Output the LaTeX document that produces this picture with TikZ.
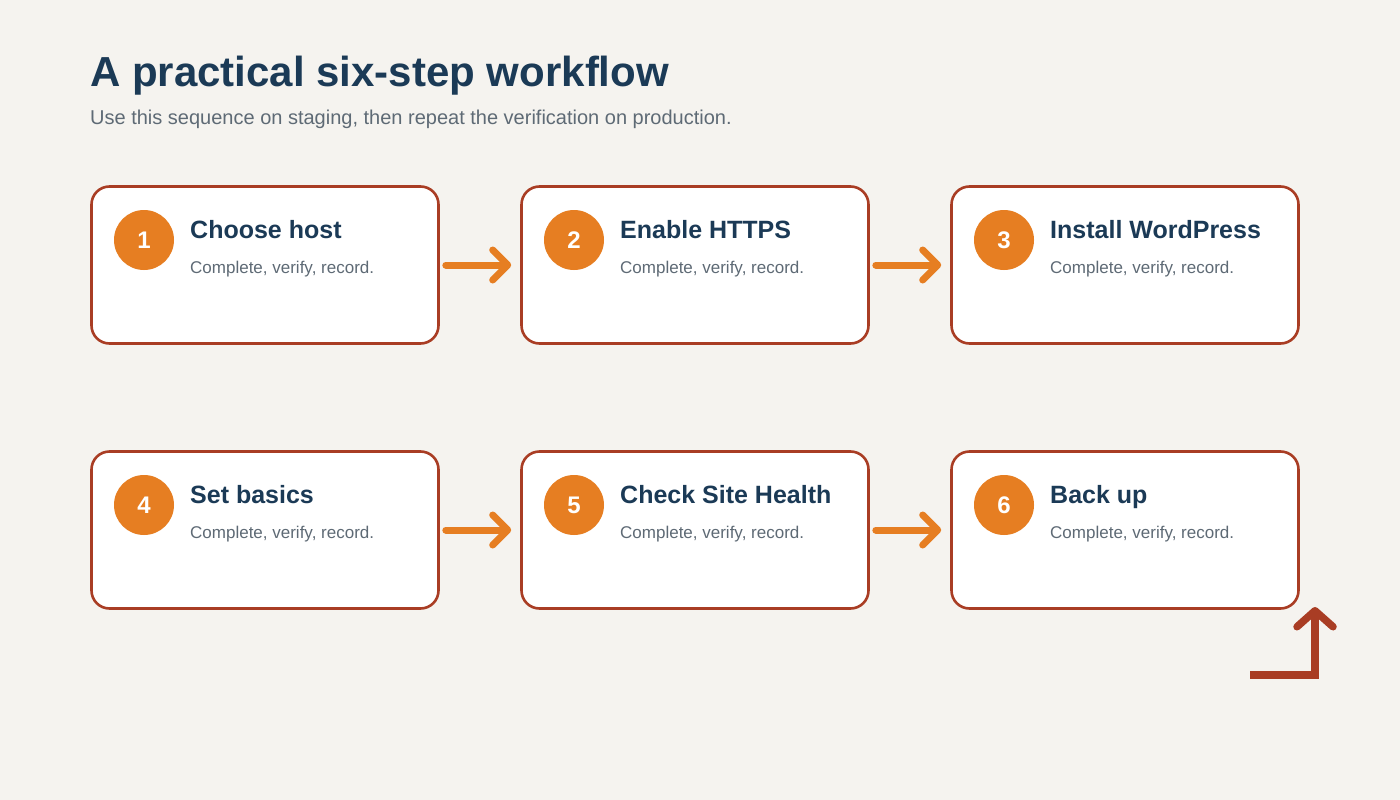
\documentclass[tikz,border=0pt]{standalone}
\usepackage{fontspec}
\setmainfont{Liberation Sans}
\usetikzlibrary{positioning, arrows.meta}

\definecolor{paper}{HTML}{F5F3EF}
\definecolor{rust}{HTML}{A93D24}
\definecolor{tang}{HTML}{E67E22}
\definecolor{navy}{HTML}{1B3A56}
\definecolor{slate}{HTML}{5E6A75}

\begin{document}
\begin{tikzpicture}[
        x=1pt, y=-1pt,
        >=LaTeX,
        % Styles
        card/.style={% For the step boxes
            rectangle,
            rounded corners=18pt,
            draw=rust,
            fill=white,
            line width=2.6pt,
            minimum width=347pt,
            minimum height=157pt,
            },
        badge/.style={% For the numbered discs
            circle,
            fill=tang,
            text=white,
            minimum size=60pt,
            inner sep=0pt,
            font=\fontsize{24}{28}\selectfont\bfseries,
            },
        steptitle/.style={% Step names
            anchor=base west,
            inner sep=0pt,
            text=navy,
            font=\fontsize{25}{28}\selectfont\bfseries,
            },
        stepnote/.style={% Small line under the name
            anchor=base west,
            inner sep=0pt,
            text=slate,
            font=\fontsize{17}{20}\selectfont,
            },
        flow/.style={% Orange arrows between boxes
            draw=tang,
            line width=7pt,
            line cap=round,
            -{Straight Barb[length=15pt, width=30pt, round]},
            },
        back/.style={% Return arrow in the corner
            draw=rust,
            line width=7.5pt,
            -{Straight Barb[length=16pt, width=36pt, round]},
            },
        ]

    % Background and frame
        \fill[paper] (0,0) rectangle (1400,800);
        \useasboundingbox (0,0) rectangle (1400,800);

    % Heading
        \node[anchor=base west, inner sep=0pt, text=navy, font=\fontsize{42}{48}\selectfont\bfseries] (title) at (90,86) {A practical six-step workflow};
        \node[anchor=base west, inner sep=0pt, text=slate, font=\fontsize{20}{24}\selectfont] (subtitle) at (90,124) {Use this sequence on staging, then repeat the verification on production.};

    % Boxes named box#
        \node[card] (box1) at (265,265) {};
        \node[card] (box2) at (695,265) {};
        \node[card] (box3) at (1125,265) {};
        \node[card] (box4) at (265,530) {};
        \node[card] (box5) at (695,530) {};
        \node[card] (box6) at (1125,530) {};

    % Numbers named num#
        \node[badge] (num1) at (144,240) {1};
        \node[badge] (num2) at (574,240) {2};
        \node[badge] (num3) at (1004,240) {3};
        \node[badge] (num4) at (144,505) {4};
        \node[badge] (num5) at (574,505) {5};
        \node[badge] (num6) at (1004,505) {6};

    % Names and notes
        \node[steptitle] (name1) at (190,238) {Choose host};
        \node[steptitle] (name2) at (620,238) {Enable HTTPS};
        \node[steptitle] (name3) at (1050,238) {Install WordPress};
        \node[steptitle] (name4) at (190,503) {Set basics};
        \node[steptitle] (name5) at (620,503) {Check Site Health};
        \node[steptitle] (name6) at (1050,503) {Back up};

        \node[stepnote] (note1) at (190,273) {Complete, verify, record.};
        \node[stepnote] (note2) at (620,273) {Complete, verify, record.};
        \node[stepnote] (note3) at (1050,273) {Complete, verify, record.};
        \node[stepnote] (note4) at (190,538) {Complete, verify, record.};
        \node[stepnote] (note5) at (620,538) {Complete, verify, record.};
        \node[stepnote] (note6) at (1050,538) {Complete, verify, record.};

    % Connect the steps
        \draw[flow] ([xshift=6pt]box1.east) -- ([xshift=-9pt]box2.west);
        \draw[flow] ([xshift=6pt]box2.east) -- ([xshift=-9pt]box3.west);
        \draw[flow] ([xshift=6pt]box4.east) -- ([xshift=-9pt]box5.west);
        \draw[flow] ([xshift=6pt]box5.east) -- ([xshift=-9pt]box6.west);

    % Corner arrow
        \coordinate (turnA) at (1250,675);
        \coordinate (turnB) at (1315,607);
        \draw[back] (turnA) -| (turnB);

\end{tikzpicture}
\end{document}
